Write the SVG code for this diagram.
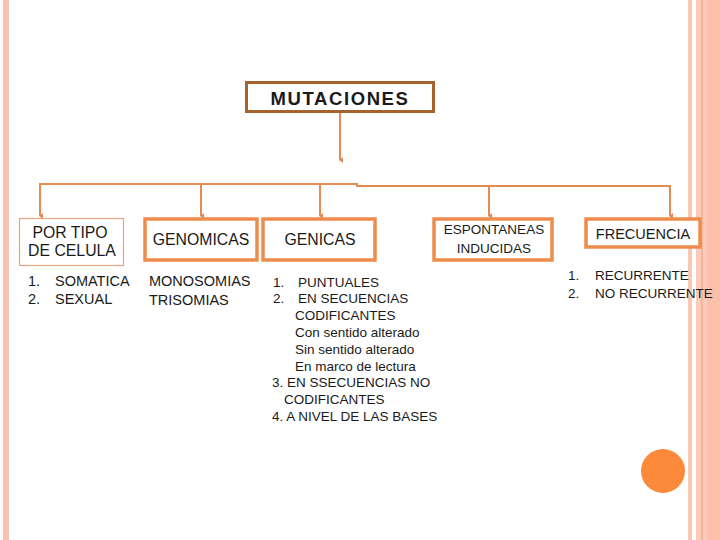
<svg xmlns="http://www.w3.org/2000/svg" width="720" height="540" viewBox="0 0 720 540">
<style>
.t{font-family:"Liberation Sans",Arial,sans-serif;fill:#1a1a1a;}
.lbl{font-size:14.5px;}
.big{font-size:15.8px;}
.sm{font-size:13.5px;}
.box{fill:#fff;stroke:#ee8c4c;stroke-width:3.5;}
.thin{fill:#fff;stroke:#e8a47a;stroke-width:1.2;}
.con{fill:none;stroke:#e38c52;stroke-width:2;}
</style>
<defs>
<marker id="ah" viewBox="0 0 6 6" refX="3" refY="5" markerWidth="6" markerHeight="6" orient="auto-start-reverse" markerUnits="userSpaceOnUse">
<path d="M0,2 L3,6 L6,2 Z" fill="#e38c52"/>
</marker>
</defs>
<rect width="720" height="540" fill="#fff"/>
<g id="frame">
<rect x="3" y="0" width="6" height="540" fill="#f8c4b0"/>
<rect x="688" y="0" width="4" height="540" fill="#f9c8b5"/>
<rect x="696" y="0" width="24" height="540" fill="#fbcab8"/>
<rect x="707" y="0" width="13" height="540" fill="#fbbfab"/>
<line x1="702" y1="0" x2="702" y2="540" stroke="#eea07c" stroke-width="1"/>
<circle cx="663" cy="471" r="22" fill="#fd8a3a"/>
</g>
<g id="connectors">
<path class="con" d="M340,113 V160" marker-end="url(#ah)"/>
<path class="con" d="M40,216 V184 H357 V186 H670 V216" marker-start="url(#ah)" marker-end="url(#ah)"/>
<path class="con" d="M201,184 V216" marker-end="url(#ah)"/>
<path class="con" d="M320,184 V216" marker-end="url(#ah)"/>
<path class="con" d="M489,186 V216" marker-end="url(#ah)"/>
</g>
<g id="mutaciones">
<rect x="246.5" y="82.5" width="187" height="29" fill="#fff" stroke="#a5632f" stroke-width="3"/>
<text class="t" x="340" y="105" text-anchor="middle" font-size="18.5" font-weight="bold" letter-spacing="1.6">MUTACIONES</text>
</g>
<g id="por-tipo">
<rect class="thin" x="19.5" y="218.5" width="104" height="47"/>
<text class="t big" x="70" y="238" text-anchor="middle">POR TIPO</text>
<text class="t big" x="72" y="256" text-anchor="middle">DE CELULA</text>
<text class="t lbl" x="28" y="286">1.</text>
<text class="t lbl" x="55" y="286">SOMATICA</text>
<text class="t lbl" x="28" y="304">2.</text>
<text class="t lbl" x="55" y="304">SEXUAL</text>
</g>
<g id="genomicas">
<rect class="box" x="145" y="219" width="112" height="41"/>
<text class="t big" x="201" y="245" text-anchor="middle">GENOMICAS</text>
<text class="t lbl" x="149" y="286">MONOSOMIAS</text>
<text class="t lbl" x="149" y="305">TRISOMIAS</text>
</g>
<g id="genicas">
<rect class="box" x="263" y="219" width="112" height="41"/>
<text class="t big" x="320" y="245" text-anchor="middle">GENICAS</text>
<text class="t sm" x="273" y="286.5">1.</text>
<text class="t sm" x="298" y="286.5">PUNTUALES</text>
<text class="t sm" x="273" y="303.3">2.</text>
<text class="t sm" x="298" y="303.3">EN SECUENCIAS</text>
<text class="t sm" x="295" y="320">CODIFICANTES</text>
<text class="t sm" x="295" y="337">Con sentido alterado</text>
<text class="t sm" x="295" y="354">Sin sentido alterado</text>
<text class="t sm" x="295" y="370.5">En marco de lectura</text>
<text class="t sm" x="272" y="387">3. EN SSECUENCIAS NO</text>
<text class="t sm" x="284" y="404">CODIFICANTES</text>
<text class="t sm" x="272" y="420.5">4. A NIVEL DE LAS BASES</text>
</g>
<g id="espontaneas">
<rect class="box" x="434" y="219" width="118" height="41"/>
<text class="t sm" x="494" y="234" text-anchor="middle">ESPONTANEAS</text>
<text class="t sm" x="494" y="253" text-anchor="middle">INDUCIDAS</text>
</g>
<g id="frecuencia">
<rect class="box" x="586" y="219" width="114" height="28"/>
<text class="t lbl" x="643" y="239" text-anchor="middle">FRECUENCIA</text>
<text class="t sm" x="568" y="280">1.</text>
<text class="t sm" x="595" y="280">RECURRENTE</text>
<text class="t sm" x="568" y="298">2.</text>
<text class="t sm" x="595" y="298">NO RECURRENTE</text>
</g>
</svg>
